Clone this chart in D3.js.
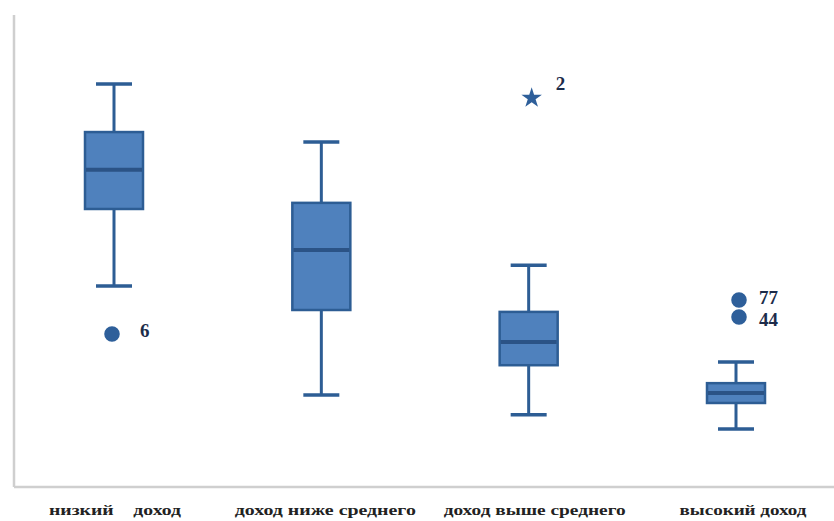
<!DOCTYPE html>
<html>
<head>
<meta charset="utf-8">
<script src="https://cdn.jsdelivr.net/npm/d3@7"></script>
<style>
  html, body { margin: 0; padding: 0; background: #fff; }
  svg { display: block; }
</style>
</head>
<body>
<svg id="chart" width="834" height="521"></svg>
<script>
// Income groups and their box-plot statistics
const categories = ["низкий    доход", "доход ниже среднего", "доход выше среднего", "высокий доход"];
const whiskerLow  = [42.6, 19.5, 15.3, 12.3];
const q1          = [58.9, 37.5, 25.8, 17.8];
const median      = [67.2, 50.2, 30.7, 19.9];
const q3          = [75.2, 60.2, 37.1, 22.0];
const whiskerHigh = [85.4, 73.1, 47.0, 26.5];

// Outlying cases: group index, value, case number, marker type
const outlierGroup = [0, 2, 3, 3];
const outlierValue = [32.4, 82.4, 39.6, 36.0];
const outlierCase  = ["6", "2", "77", "44"];
const outlierKind  = ["circle", "star", "circle", "circle"];

const svg = d3.select("#chart");
const fill = "#4f81bd", edge = "#2d5d94", mid = "#2b5386";
const serif = "'Liberation Serif', 'Times New Roman', serif";

const x = d3.scalePoint().domain(categories).range([114, 736]);
const y = d3.scaleLinear().domain([0, 100]).range([487, 15]);

// Frame: left and bottom axis lines
svg.append("line").attr("x1", 14).attr("x2", 14).attr("y1", y(100)).attr("y2", y(0))
  .attr("stroke", "#cfcfcf").attr("stroke-width", 2.5);
svg.append("line").attr("x1", 14).attr("x2", 834).attr("y1", y(0)).attr("y2", y(0))
  .attr("stroke", "#cfcfcf").attr("stroke-width", 2.5);

const boxW = 58, capW = 36;
const groups = categories.map((c, i) => ({c, i}));

const g = svg.selectAll("g.box").data(groups).join("g").attr("class", "box");
// whisker stems
g.append("line").attr("x1", d => x(d.c)).attr("x2", d => x(d.c))
  .attr("y1", d => y(whiskerHigh[d.i])).attr("y2", d => y(whiskerLow[d.i]))
  .attr("stroke", edge).attr("stroke-width", 3);
// whisker caps
[whiskerHigh, whiskerLow].forEach(arr => {
  g.append("line").attr("x1", d => x(d.c) - capW / 2).attr("x2", d => x(d.c) + capW / 2)
    .attr("y1", d => y(arr[d.i])).attr("y2", d => y(arr[d.i]))
    .attr("stroke", edge).attr("stroke-width", 3.5);
});
// boxes
g.append("rect").attr("x", d => x(d.c) - boxW / 2).attr("width", boxW)
  .attr("y", d => y(q3[d.i])).attr("height", d => y(q1[d.i]) - y(q3[d.i]))
  .attr("fill", fill).attr("stroke", edge).attr("stroke-width", 2.5);
// medians
g.append("line").attr("x1", d => x(d.c) - boxW / 2 + 1).attr("x2", d => x(d.c) + boxW / 2 - 1)
  .attr("y1", d => y(median[d.i])).attr("y2", d => y(median[d.i]))
  .attr("stroke", mid).attr("stroke-width", 4);

// outliers
const offs = [-2, 3, 3, 3];
const outliers = outlierValue.map((v, k) => ({v, k, c: categories[outlierGroup[k]]}));
svg.selectAll("path.out").data(outliers).join("path").attr("class", "out")
  .attr("transform", d => `translate(${x(d.c) + offs[d.k]},${y(d.v)})`)
  .attr("d", d => d3.symbol().type(outlierKind[d.k] === "star" ? d3.symbolStar : d3.symbolCircle)
    .size(outlierKind[d.k] === "star" ? 130 : 190)())
  .attr("fill", "#2e5f9a");
const lblDx = [26, 27, 23, 23], lblDy = [-4, -15, -3, 2];
svg.selectAll("text.case").data(outliers).join("text").attr("class", "case")
  .attr("x", d => x(d.c) + lblDx[d.k])
  .attr("y", d => y(d.v) + lblDy[d.k])
  .attr("dy", "0.35em")
  .attr("font-family", serif).attr("font-weight", "bold").attr("font-size", 19)
  .attr("fill", "#1c2c4a")
  .text(d => outlierCase[d.k]);

// category labels
const lblW = [132, 181, 182, 127];
svg.selectAll("text.cat").data(groups).join("text").attr("class", "cat")
  .attr("x", d => x(d.c) + [1, 4, 6, 7][d.i]).attr("y", 515)
  .attr("text-anchor", "middle")
  .attr("font-family", serif).attr("font-weight", "bold").attr("font-size", 14)
  .attr("fill", "#222")
  .attr("xml:space", "preserve").style("white-space", "pre")
  .attr("textLength", d => lblW[d.i]).attr("lengthAdjust", "spacingAndGlyphs")
  .text(d => d.c);
</script>
</body>
</html>
